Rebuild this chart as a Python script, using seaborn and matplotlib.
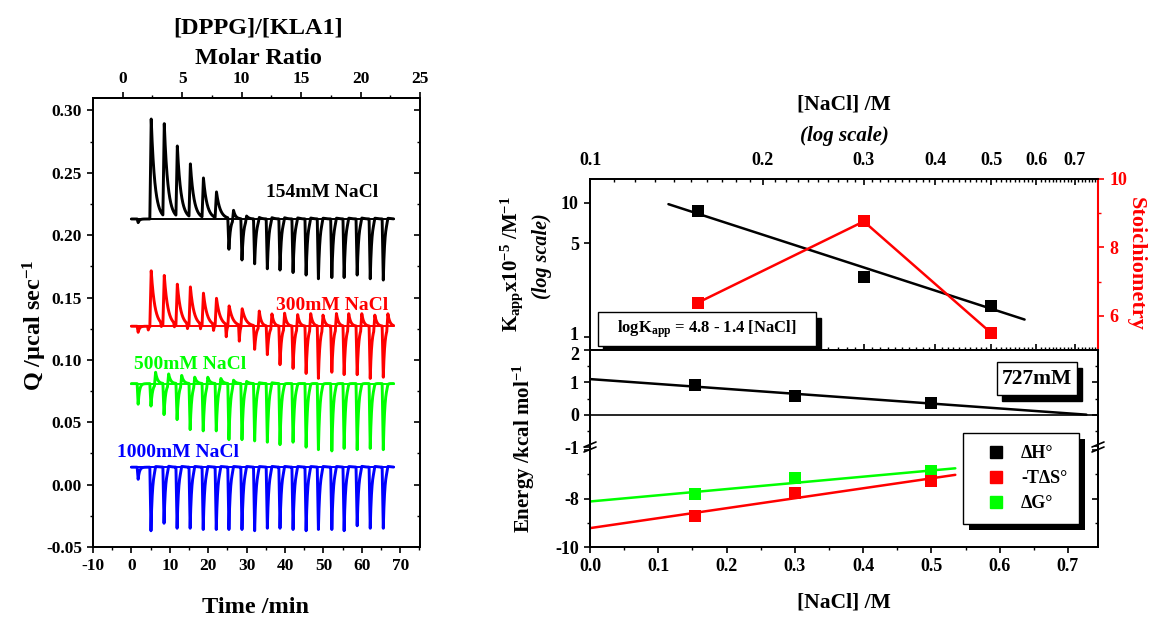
import numpy as np
import pandas as pd
import matplotlib
matplotlib.use("Agg")
import matplotlib.pyplot as plt
import matplotlib.patheffects as pe
import matplotlib.transforms as mtransforms
import seaborn as sns
from matplotlib.ticker import (MultipleLocator, FixedLocator, FixedFormatter,
                               FormatStrFormatter, NullLocator, NullFormatter)
from matplotlib.patches import Rectangle
from matplotlib.lines import Line2D

# ---------------- data: ITC raw traces (left panel) ----------------
inj_times = [4.8, 8.2, 11.6, 15.0, 18.4, 21.8, 25.1, 28.5, 31.8, 35.1,
             38.4, 41.8, 45.2, 48.4, 51.9, 55.1, 58.5, 61.9, 65.3]
pre_inj_time = 1.5
trace_start, trace_end = 0.0, 68.3

trace_names = ["154mM NaCl", "300mM NaCl", "500mM NaCl", "1000mM NaCl"]
trace_colors = ["#000000", "#ff0000", "#00ff00", "#0000ff"]
baselines = [0.213, 0.127, 0.081, 0.014]
pre_dips = [0.210, 0.122, 0.064, 0.004]

black_up = [0.294, 0.288, 0.270, 0.256, 0.245, 0.234, 0.221, 0.217, 0.216, 0.216,
            0.216, 0.216, 0.216, 0.216, 0.216, 0.216, 0.216, 0.216, 0.216]
black_dn = [0.213, 0.213, 0.213, 0.213, 0.213, 0.213, 0.188, 0.180, 0.177, 0.173,
            0.172, 0.170, 0.168, 0.165, 0.166, 0.166, 0.168, 0.165, 0.164]
red_up = [0.172, 0.167, 0.160, 0.158, 0.153, 0.149, 0.143, 0.141, 0.140, 0.138,
          0.139, 0.138, 0.139, 0.138, 0.139, 0.139, 0.139, 0.138, 0.139]
red_dn = [0.124, 0.124, 0.124, 0.123, 0.123, 0.122, 0.117, 0.114, 0.108, 0.104,
          0.096, 0.093, 0.089, 0.085, 0.090, 0.088, 0.088, 0.085, 0.086]
green_up = [0.091, 0.090, 0.089, 0.088, 0.088, 0.087, 0.086, 0.085, 0.084, 0.084,
            0.083, 0.083, 0.083, 0.083, 0.083, 0.083, 0.083, 0.083, 0.083]
green_dn = [0.063, 0.056, 0.052, 0.044, 0.043, 0.043, 0.036, 0.036, 0.035, 0.034,
            0.032, 0.034, 0.030, 0.028, 0.027, 0.029, 0.028, 0.029, 0.028]
blue_up = [0.017, 0.017, 0.017, 0.017, 0.017, 0.017, 0.017, 0.017, 0.017, 0.017,
           0.017, 0.017, 0.017, 0.017, 0.017, 0.017, 0.017, 0.017, 0.017]
blue_dn = [-0.037, -0.031, -0.035, -0.035, -0.036, -0.036, -0.036, -0.036, -0.037, -0.035,
           -0.035, -0.036, -0.037, -0.036, -0.036, -0.037, -0.033, -0.035, -0.035]
trace_ups = [black_up, red_up, green_up, blue_up]
trace_dns = [black_dn, red_dn, green_dn, blue_dn]

label_x = [49.6, 52.2, 15.3, 12.1]
label_y = [0.234, 0.144, 0.096, 0.0257]

# ---------------- data: right panels ----------------
nacl = [0.154, 0.3, 0.5]
kapp = [8.7, 2.8, 1.70]
kapp_fit_x = [0.137, 0.572]
kapp_fit_y = [9.8, 1.35]
stoich = [6.38, 8.76, 5.50]
dH = [0.91, 0.57, 0.36]
dH_fit_x = [0.0, 0.727]
dH_fit_y = [1.10, 0.0]
mTdS = [-8.72, -7.78, -7.29]
mTdS_fit_x = [0.0, 0.535]
mTdS_fit_y = [-9.22, -7.02]
dG = [-7.82, -7.17, -6.88]
dG_fit_x = [0.0, 0.535]
dG_fit_y = [-8.12, -6.75]

# ---------------- style ----------------
sns.set_theme(style="ticks")
plt.rcParams.update({
    "font.family": ["Liberation Serif", "DejaVu Serif"],
    "font.weight": "bold",
    "axes.labelweight": "bold",
    "text.color": "black",
    "axes.labelcolor": "black",
    "xtick.labelcolor": "black",
    "ytick.labelcolor": "black",
    "mathtext.fontset": "custom",
    "mathtext.rm": "Liberation Serif:bold",
    "mathtext.it": "Liberation Serif:italic:bold",
    "mathtext.bf": "Liberation Serif:bold",
    "mathtext.default": "rm",
    "axes.linewidth": 1.3,
    "xtick.major.width": 1.2, "ytick.major.width": 1.2,
    "xtick.minor.width": 1.0, "ytick.minor.width": 1.0,
    "xtick.major.size": 4.5, "ytick.major.size": 4.5,
    "xtick.minor.size": 2.5, "ytick.minor.size": 2.5,
    "xtick.color": "black", "ytick.color": "black",
    "axes.edgecolor": "black",
    "axes.unicode_minus": False,
})

W, H = 1152, 618
fig = plt.figure(figsize=(W / 100, H / 100), dpi=100)


def fx(px):
    return px / W


def fy(py):
    return 1 - py / H


def kernel(s, rise, tau):
    out = np.zeros_like(s)
    m1 = (s >= 0) & (s < rise)
    out[m1] = s[m1] / rise
    m2 = s >= rise
    out[m2] = np.exp(-(s[m2] - rise) / tau)
    return out


def build_trace(base, pre, ups, dns):
    t = np.arange(trace_start, trace_end, 0.02)
    q = np.full_like(t, base) + (pre - base) * kernel(t - pre_inj_time, 0.25, 0.35)
    for ti, u, d in zip(inj_times, ups, dns):
        dip, bump = d - base, u - base
        if abs(bump) >= abs(dip):
            q += dip * kernel(t - (ti - 0.6), 0.2, 0.2)
            q += bump * kernel(t - ti, 0.35, 0.95)
        else:
            q += dip * kernel(t - ti, 0.3, 0.4)
            q += bump * kernel(t - ti - 1.2, 0.3, 0.5)
    return t, q


frames, base_frames = [], []
for name, b, p, u, d in zip(trace_names, baselines, pre_dips, trace_ups, trace_dns):
    t, q = build_trace(b, p, u, d)
    frames.append(pd.DataFrame({"time": t, "Q": q, "series": name}))
    base_frames.append(pd.DataFrame({"time": [trace_start, trace_end], "Q": [b, b], "series": name}))
df_tr = pd.concat(frames, ignore_index=True)
df_base = pd.concat(base_frames, ignore_index=True)
pal = dict(zip(trace_names, trace_colors))

# ================= LEFT PANEL =================
axL = fig.add_axes([fx(93), fy(547), fx(420) - fx(93), fy(98) - fy(547)])
sns.lineplot(data=df_base, x="time", y="Q", hue="series", palette=pal, estimator=None,
             sort=False, legend=False, lw=1.4, ax=axL)
sns.lineplot(data=df_tr, x="time", y="Q", hue="series", palette=pal, estimator=None,
             sort=False, legend=False, lw=2.1, ax=axL)
for name, c, x, y in zip(trace_names, trace_colors, label_x, label_y):
    axL.text(x, y, name, color=c, ha="center", va="center", fontsize=14, fontweight="bold")

axL.set_xlim(-10, 75.16)
axL.set_ylim(-0.05, 0.31)
axL.xaxis.set_major_locator(FixedLocator(np.arange(-10, 71, 10)))
axL.xaxis.set_minor_locator(MultipleLocator(5))
axL.yaxis.set_major_locator(FixedLocator(np.arange(-0.05, 0.301, 0.05)))
axL.yaxis.set_minor_locator(MultipleLocator(0.025))
axL.yaxis.set_major_formatter(FormatStrFormatter("%.2f"))
axL.tick_params(which="both", direction="out", top=False, right=False, labelsize=12.5)
axL.set_xlabel("")
axL.set_ylabel("")
axLr = axL.twinx()
axLr.set_ylim(axL.get_ylim())
axLr.yaxis.set_major_locator(FixedLocator(np.arange(-0.05, 0.301, 0.05)))
axLr.yaxis.set_minor_locator(MultipleLocator(0.025))
axLr.tick_params(which="both", direction="in", labelright=False)

secL = axL.secondary_xaxis("top", functions=(lambda t: (t + 2.29) / 3.098,
                                             lambda r: r * 3.098 - 2.29))
secL.xaxis.set_major_locator(FixedLocator([0, 5, 10, 15, 20, 25]))
secL.xaxis.set_minor_locator(MultipleLocator(2.5))
secL.tick_params(which="both", direction="out", labelsize=12.5)

fig.text(fx(258), fy(28), "[DPPG]/[KLA1]", ha="center", va="center", fontsize=17.5)
fig.text(fx(258), fy(58), "Molar Ratio", ha="center", va="center", fontsize=17.5)
fig.text(fx(35), fy(325), "Q /\u03bccal sec$^{-1}$", ha="center", va="center",
         rotation=90, fontsize=17.5)
fig.text(fx(256), fy(597), "Time /min", ha="center", va="top", fontsize=17.5)

# ================= RIGHT TOP PANEL =================
RL, RR = 590, 1098
axK = fig.add_axes([fx(RL), fy(350), fx(RR) - fx(RL), fy(179) - fy(350)])
axK.set_xscale("log")
axK.set_yscale("log")
sns.lineplot(x=kapp_fit_x, y=kapp_fit_y, color="black", lw=1.8, ax=axK, estimator=None)
sns.scatterplot(x=nacl, y=kapp, color="black", marker="s", s=70, linewidth=0, ax=axK, zorder=5)
axK.set_xlim(0.1, 0.768)
axK.set_ylim(0.8, 15.1)
axK.xaxis.set_major_locator(FixedLocator([0.1, 0.2, 0.3, 0.4, 0.5, 0.6, 0.7]))
axK.xaxis.set_major_formatter(FixedFormatter(["0.1", "0.2", "0.3", "0.4", "0.5", "0.6", "0.7"]))
axK.xaxis.set_minor_locator(FixedLocator(np.arange(0.11, 0.77, 0.01)))
axK.xaxis.set_minor_formatter(NullFormatter())
axK.tick_params(axis="x", which="both", direction="in", top=True, bottom=True,
                labeltop=True, labelbottom=False, labelsize=13, pad=7)
axK.yaxis.set_major_locator(FixedLocator([1, 5, 10]))
axK.yaxis.set_major_formatter(FixedFormatter(["1", "5", "10"]))
axK.yaxis.set_minor_locator(NullLocator())
axK.tick_params(axis="y", which="both", direction="out", right=False, labelsize=13)
axK.spines["right"].set_visible(False)
axK.set_xlabel("")
axK.set_ylabel("")

axS = axK.twinx()
sns.lineplot(x=nacl, y=stoich, color="#ff0000", lw=1.8, ax=axS, estimator=None)
sns.scatterplot(x=nacl, y=stoich, color="#ff0000", marker="s", s=70, linewidth=0, ax=axS, zorder=5)
axS.set_ylim(5, 10)
axS.yaxis.set_major_locator(FixedLocator([6, 8, 10]))
axS.yaxis.set_minor_locator(FixedLocator([7, 9]))
axS.tick_params(axis="y", which="both", colors="#ff0000", labelcolor="#ff0000",
                direction="out", labelsize=13)
axS.spines["right"].set_color("#ff0000")
axS.spines["right"].set_linewidth(1.5)
axS.set_ylabel("")

# logK box with shadow
bx0, bx1, by0, by1 = (598 - RL) / (RR - RL), (816 - RL) / (RR - RL), (350 - 346) / 171, (350 - 312) / 171
sx, sy = 5 / (RR - RL), 6 / 171
axK.add_patch(Rectangle((bx0 + sx, by0 - sy), bx1 - bx0, by1 - by0, transform=axK.transAxes,
                        facecolor="black", edgecolor="black", clip_on=False, zorder=6))
axK.add_patch(Rectangle((bx0, by0), bx1 - bx0, by1 - by0, transform=axK.transAxes,
                        facecolor="white", edgecolor="black", lw=1.0, clip_on=False, zorder=7))
axK.text((bx0 + bx1) / 2, (by0 + by1) / 2, "logK$_{\\mathrm{app}}$ = 4.8 - 1.4 [NaCl]",
         transform=axK.transAxes, ha="center", va="center", fontsize=12, zorder=8)

fig.text(fx(844), fy(105), "[NaCl] /M", ha="center", va="center", fontsize=15.5)
fig.text(fx(844), fy(136), "(log scale)", ha="center", va="center", fontsize=15, style="italic")
fig.text(fx(512), fy(264), "K$_{\\mathrm{app}}$x10$^{-5}$ /M$^{-1}$", ha="center", va="center",
         rotation=90, fontsize=15)
fig.text(fx(542), fy(256), "(log scale)", ha="center", va="center", rotation=90,
         fontsize=14.5, style="italic")
fig.text(fx(1136), fy(264), "Stoichiometry", ha="center", va="center", rotation=270,
         fontsize=16, color="#ff0000")

# ================= RIGHT MIDDLE PANEL (upper energy) =================
axM = fig.add_axes([fx(RL), fy(447), fx(RR) - fx(RL), fy(350) - fy(447)])
axM.axhline(0, color="black", lw=1.2)
sns.lineplot(x=dH_fit_x, y=dH_fit_y, color="black", lw=1.8, ax=axM, estimator=None)
sns.scatterplot(x=nacl, y=dH, color="black", marker="s", s=70, linewidth=0, ax=axM, zorder=5)
axM.set_xlim(0, 0.744)
axM.set_ylim(-1, 2)
axM.yaxis.set_major_locator(FixedLocator([-1, 0, 1, 2]))
axM.yaxis.set_major_formatter(FixedFormatter(["-1", "0", "1", "2"]))
axM.yaxis.set_minor_locator(FixedLocator([-0.5, 0.5, 1.5]))
axM.tick_params(axis="y", which="both", direction="out", labelsize=13)
axM.tick_params(axis="x", which="both", bottom=False, top=False, labelbottom=False)
axM.spines["bottom"].set_visible(False)
axM.set_xlabel("")
axM.set_ylabel("")
axMr = axM.twinx()
axMr.set_ylim(-1, 2)
axMr.yaxis.set_major_locator(FixedLocator([-1, 0, 1, 2]))
axMr.yaxis.set_minor_locator(FixedLocator([-0.5, 0.5, 1.5]))
axMr.tick_params(which="both", direction="in", labelright=False)
axMr.spines["bottom"].set_visible(False)

mx0, mx1 = (997 - RL) / (RR - RL), (1077 - RL) / (RR - RL)
my0, my1 = (447 - 395) / 97, (447 - 362) / 97
axM.add_patch(Rectangle((mx0 + 5 / (RR - RL), my0 - 6 / 97), mx1 - mx0, my1 - my0,
                        transform=axM.transAxes, facecolor="black", edgecolor="black",
                        clip_on=False, zorder=6))
axM.add_patch(Rectangle((mx0, my0), mx1 - mx0, my1 - my0, transform=axM.transAxes,
                        facecolor="white", edgecolor="black", lw=1.0, clip_on=False, zorder=7))
axM.text((mx0 + mx1) / 2, (my0 + my1) / 2, "727mM", transform=axM.transAxes,
         ha="center", va="center", fontsize=15.5, zorder=8)

# ================= RIGHT BOTTOM PANEL (lower energy) =================
axB = fig.add_axes([fx(RL), fy(547), fx(RR) - fx(RL), fy(447) - fy(547)])
sns.lineplot(x=dG_fit_x, y=dG_fit_y, color="#00ff00", lw=1.8, ax=axB, estimator=None)
sns.lineplot(x=mTdS_fit_x, y=mTdS_fit_y, color="#ff0000", lw=1.8, ax=axB, estimator=None)
sns.scatterplot(x=nacl, y=dG, color="#00ff00", marker="s", s=70, linewidth=0, ax=axB, zorder=5)
sns.scatterplot(x=nacl, y=mTdS, color="#ff0000", marker="s", s=70, linewidth=0, ax=axB, zorder=5)
axB.set_xlim(0, 0.744)
axB.set_ylim(-10, -5.87)
axB.yaxis.set_major_locator(FixedLocator([-10, -8, -6]))
axB.yaxis.set_major_formatter(FixedFormatter(["-10", "-8", ""]))
axB.yaxis.set_minor_locator(FixedLocator([-9, -7]))
axB.xaxis.set_major_locator(FixedLocator(np.arange(0, 0.71, 0.1)))
axB.xaxis.set_major_formatter(FormatStrFormatter("%.1f"))
axB.xaxis.set_minor_locator(MultipleLocator(0.05))
axB.tick_params(which="both", direction="out", top=False, labelsize=13)
axB.spines["top"].set_visible(False)
axB.set_xlabel("")
axB.set_ylabel("")
axBr = axB.twinx()
axBr.set_ylim(-10, -5.87)
axBr.yaxis.set_major_locator(FixedLocator([-10, -8, -6]))
axBr.yaxis.set_minor_locator(FixedLocator([-9, -7]))
axBr.tick_params(which="both", direction="in", labelright=False)
axBr.spines["top"].set_visible(False)

fig.text(fx(844), fy(602), "[NaCl] /M", ha="center", va="center", fontsize=15.5)
fig.text(fx(524), fy(448), "Energy /kcal mol$^{-1}$", ha="center", va="center",
         rotation=90, fontsize=15)

# nudge the touching "1" / "2" tick labels apart a little
up = mtransforms.ScaledTranslation(0, 2.5 / 72, fig.dpi_scale_trans)
down = mtransforms.ScaledTranslation(0, -2.5 / 72, fig.dpi_scale_trans)
fig.canvas.draw()
for lab in axK.yaxis.get_ticklabels():
    if lab.get_text() == "1":
        lab.set_transform(lab.get_transform() + up)
for lab in axM.yaxis.get_ticklabels():
    if lab.get_text() == "2":
        lab.set_transform(lab.get_transform() + down)

# legend with shadow
handles = [Line2D([], [], marker="s", ls="", color=c, markersize=8.5)
           for c in ["#000000", "#ff0000", "#00ff00"]]
leg = axB.legend(handles, ["\u0394H\u00b0", "-T\u0394S\u00b0", "\u0394G\u00b0"],
                 loc="upper left", bbox_to_anchor=(fx(963), fy(433)),
                 bbox_transform=fig.transFigure, frameon=True, fancybox=False,
                 edgecolor="black", framealpha=1, borderpad=0.67, handlelength=2.3,
                 handletextpad=0.25, labelspacing=0.45, borderaxespad=0,
                 prop={"size": 13, "weight": "bold"})
leg.get_frame().set_linewidth(1.0)
leg.get_frame().set_path_effects([pe.withSimplePatchShadow(offset=(4, -4),
                                                           shadow_rgbFace="black", alpha=1)])
leg.set_zorder(10)

# axis-break marks on the energy axis
for cx in (RL, RR):
    for dy in (-2.5, 2.5):
        fig.add_artist(Line2D([fx(cx - 6), fx(cx + 6)], [fy(447 + dy + 2.5), fy(447 + dy - 2.5)],
                              transform=fig.transFigure, color="black", lw=1.2))

fig.savefig("out.png", dpi=100)
